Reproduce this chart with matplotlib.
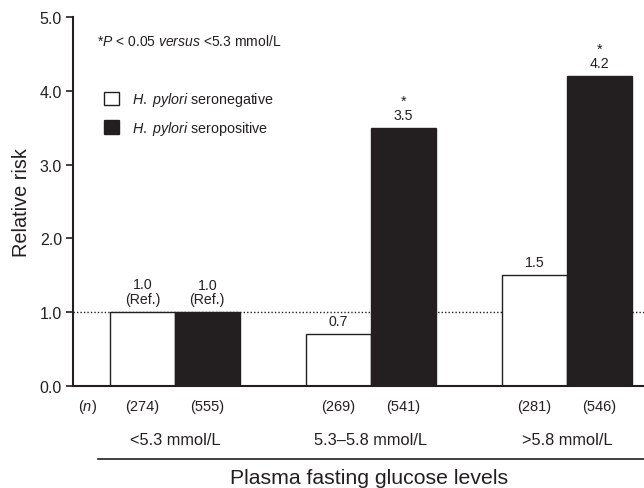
import matplotlib
matplotlib.use("Agg")
import matplotlib.pyplot as plt
from matplotlib.patches import Patch
import numpy as np

plt.rcParams["font.family"] = ["Liberation Sans", "DejaVu Sans"]
plt.rcParams["mathtext.fontset"] = "custom"
plt.rcParams["mathtext.rm"] = "Liberation Sans"
plt.rcParams["mathtext.it"] = "Liberation Sans:italic"

groups = ["<5.3 mmol/L", "5.3\u20135.8 mmol/L", ">5.8 mmol/L"]
seroneg = [1.0, 0.7, 1.5]
seropos = [1.0, 3.5, 4.2]
n_neg = [274, 269, 281]
n_pos = [555, 541, 546]
lab_neg = ["1.0\n(Ref.)", "0.7", "1.5"]
lab_pos = ["1.0\n(Ref.)", "*\n3.5", "*\n4.2"]

ink = "#231f20"
fig = plt.figure(figsize=(6.44, 4.89), dpi=100)
ax = fig.add_axes([0.1134, 0.2086, 0.8866, 0.7546])

x = np.arange(len(groups))
w = 0.331
ax.bar(x - w / 2, seroneg, w, color="white", edgecolor=ink, linewidth=1.0)
ax.bar(x + w / 2, seropos, w, color=ink, edgecolor=ink, linewidth=1.0)
ax.axhline(1.0, color=ink, linestyle=(0, (1, 1.5)), linewidth=1.0, zorder=0)

tr = ax.get_xaxis_transform()
for i in range(len(groups)):
    ax.text(x[i] - w / 2, seroneg[i] + 0.08, lab_neg[i], ha="center", va="bottom",
            fontsize=10.2, color=ink, linespacing=1.15)
    ax.text(x[i] + w / 2, seropos[i] + 0.08, lab_pos[i], ha="center", va="bottom",
            fontsize=10.2, color=ink, linespacing=1.0)
    ax.text(x[i] - w / 2, -0.054, f"({n_neg[i]})", transform=tr, ha="center", va="center",
            fontsize=10.5, color=ink)
    ax.text(x[i] + w / 2, -0.054, f"({n_pos[i]})", transform=tr, ha="center", va="center",
            fontsize=10.5, color=ink)
    ax.text(x[i], -0.144, groups[i], transform=tr, ha="center", va="center",
            fontsize=11.8, color=ink)

ax.text(-0.493, -0.054, "($\\it{n}$)", transform=tr, ha="left", va="center", fontsize=10.5, color=ink)
ax.plot([-0.391, 2.392], [-0.198, -0.198], transform=tr, color=ink, linewidth=1.2, clip_on=False)
ax.text(0.99, -0.249, "Plasma fasting glucose levels", transform=tr, ha="center", va="center",
        fontsize=15.3, color=ink)

ax.set_xlim(-0.519, 2.392)
ax.set_ylim(0, 5.0)
ax.set_yticks(np.arange(0, 5.01, 1.0))
ax.set_yticklabels([f"{v:.1f}" for v in np.arange(0, 5.01, 1.0)])
ax.set_xticks([])
ax.tick_params(axis="y", direction="out", length=5, width=1.2, labelsize=11.5, colors=ink, pad=3)
ax.spines["top"].set_visible(False)
ax.spines["right"].set_visible(False)
ax.spines["left"].set_linewidth(1.5)
ax.spines["bottom"].set_linewidth(1.5)
ax.spines["left"].set_color(ink)
ax.spines["bottom"].set_color(ink)
ax.set_ylabel("Relative risk", fontsize=14.3, color=ink, labelpad=6)

ax.text(0.042, 0.935, "*$\\it{P}$ < 0.05 $\\it{versus}$ <5.3 mmol/L", transform=ax.transAxes,
        fontsize=10, color=ink, va="center")

handles = [Patch(facecolor="white", edgecolor=ink, linewidth=1.0),
           Patch(facecolor=ink, edgecolor=ink, linewidth=1.0)]
ax.legend(handles, ["$\\it{H.\\ pylori}$ seronegative", "$\\it{H.\\ pylori}$ seropositive"],
          loc="upper left", bbox_to_anchor=(0.045, 0.817), frameon=False, fontsize=10.3,
          handlelength=1.05, handleheight=1.05, labelspacing=0.75, handletextpad=0.9,
          borderaxespad=0, labelcolor=ink)

fig.savefig("out.png", dpi=100)
